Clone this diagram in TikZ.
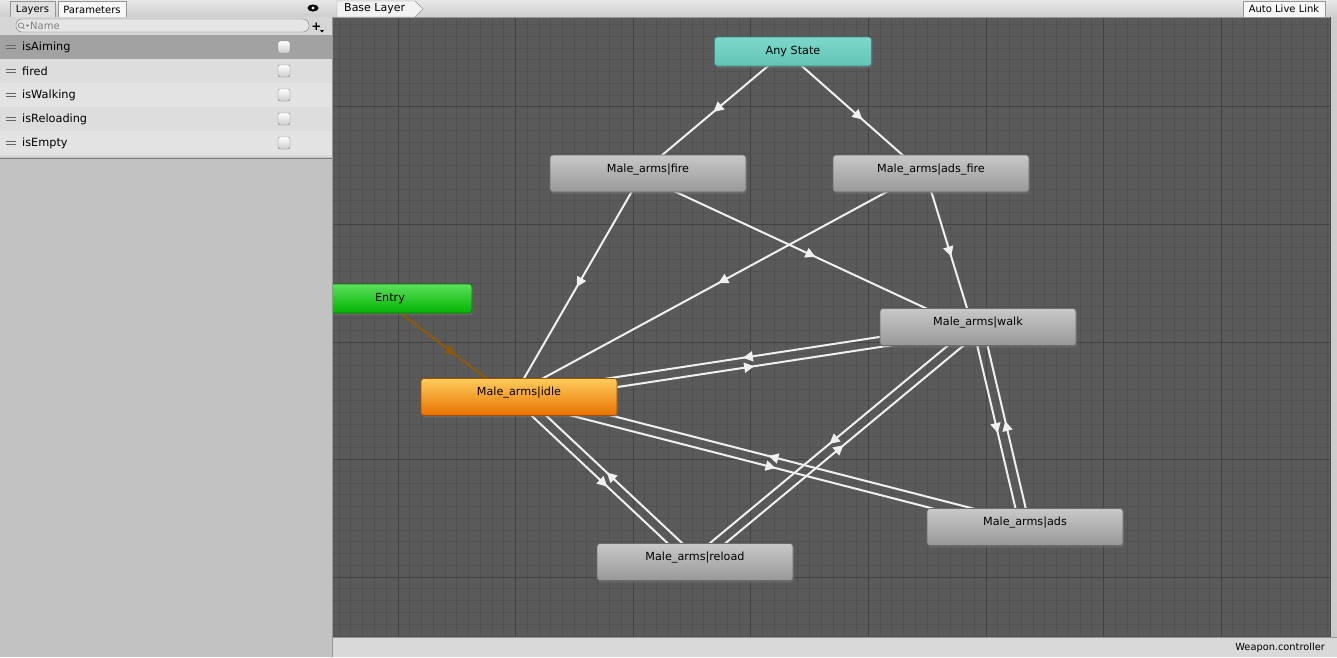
\documentclass[tikz,border=0pt]{standalone}
\usepackage{fontspec}
\setmainfont{DejaVu Sans}
\usetikzlibrary{calc,arrows.meta,decorations.markings,shadows}

\definecolor{gridbg}{RGB}{90,90,90}
\definecolor{gridminor}{RGB}{81,81,81}
\definecolor{gridmajor}{RGB}{66,66,66}
\definecolor{panelgray}{RGB}{194,194,194}
\definecolor{bartop}{RGB}{232,232,232}
\definecolor{barbot}{RGB}{205,205,205}
\definecolor{rowsel}{RGB}{162,162,162}
\definecolor{rowa}{RGB}{221,221,221}
\definecolor{rowb}{RGB}{227,227,227}
\definecolor{edgegray}{RGB}{150,150,150}
\definecolor{graytop}{RGB}{200,200,200}
\definecolor{graybot}{RGB}{152,152,152}
\definecolor{idletop}{RGB}{255,204,92}
\definecolor{idlebot}{RGB}{232,114,0}
\definecolor{entrytop}{RGB}{92,224,92}
\definecolor{entrybot}{RGB}{0,180,0}
\definecolor{anytop}{RGB}{124,216,202}
\definecolor{anybot}{RGB}{98,196,182}
\definecolor{entryline}{RGB}{140,90,10}

\pgfdeclarelayer{grid}
\pgfdeclarelayer{edges}
\pgfsetlayers{grid,edges,main}

\tikzset{
  state/.style={rounded corners=3pt, minimum width=196pt, inner xsep=0pt, inner ysep=0pt,
    text height=17pt, text depth=20pt, draw=#1!70!black, line width=.6pt,
    drop shadow={shadow xshift=1pt, shadow yshift=-2pt, opacity=.35}},
  graystate/.style={state=graybot, top color=graytop, bottom color=graybot},
  trans/.style={draw=#1, line width=2pt, postaction={decorate},
    decoration={markings, mark=at position .5 with {\arrow[#1,xshift=5pt]{Triangle[width=10pt,length=10pt]}}}},
  trans/.default=white!94!black,
  uitext/.style={font=\fontsize{10}{11}\selectfont, text=black, inner sep=0pt},
}

\begin{document}
\begin{tikzpicture}[x=1pt,y=-1pt, font=\fontsize{11.2}{12}\selectfont]
\useasboundingbox (0,0) rectangle (1337,657);

% grid
\begin{pgfonlayer}{grid}
\fill[gridbg] (333,17) rectangle (1330,637);
\begin{scope}
\clip (333,17) rectangle (1330,637);
\foreach \i in {-6,...,79} \draw[gridminor, line width=1pt] ({398+\i*11.76},17) -- ({398+\i*11.76},637);
\foreach \j in {-28,...,25} \draw[gridminor, line width=1pt] (333,{342+\j*11.76}) -- (1330,{342+\j*11.76});
\foreach \i in {-1,...,8} \draw[gridmajor, line width=1pt] ({398+\i*117.6},17) -- ({398+\i*117.6},637);
\foreach \j in {-3,...,3} \draw[gridmajor, line width=1pt] (333,{342+\j*117.6}) -- (1330,{342+\j*117.6});
\end{scope}
\end{pgfonlayer}

% states
\node[state=anybot, top color=anytop, bottom color=anybot, minimum width=157pt,
  text height=17.5pt, text depth=11.5pt] (any) at (793,51.5) {Any State};
\node[graystate] (fire) at (648,173.5) {Male\_arms|fire};
\node[graystate] (adsfire) at (931,173.5) {Male\_arms|ads\_fire};
\node[state=entrybot, top color=entrytop, bottom color=entrybot, minimum width=164pt,
  text height=17.5pt, text depth=11.5pt] (entry) at (390,298.5) {Entry};
\node[graystate] (walk) at (978,327) {Male\_arms|walk};
\node[state=idlebot, top color=idletop, bottom color=idlebot] (idle) at (519,397) {Male\_arms|idle};
\node[graystate] (ads) at (1025,527) {Male\_arms|ads};
\node[graystate] (reload) at (695,562) {Male\_arms|reload};

% transitions
\begin{pgfonlayer}{edges}
\foreach \a/\b in {any/fire,any/adsfire,fire/idle,fire/walk,adsfire/idle,adsfire/walk,
    walk/idle,idle/walk,walk/reload,reload/walk,walk/ads,ads/walk,
    idle/reload,reload/idle,idle/ads,ads/idle}
  \draw[trans] ($(\a.center)!5pt!-90:(\b.center)$) -- ($(\b.center)!5pt!90:(\a.center)$);
\draw[trans=entryline] ($(entry.center)!5pt!-90:(idle.center)$) -- ($(idle.center)!5pt!90:(entry.center)$);
\end{pgfonlayer}

% left panel
\fill[panelgray] (0,0) rectangle (333,657);
\shade[top color=bartop, bottom color=barbot] (0,0) rectangle (333,17);
\draw[fill=white!88!black, draw=edgegray] (10,1) rectangle (55,17);
\draw[fill=white!97!black, draw=edgegray] (58,1) rectangle (126,17);
\node[uitext] (layerstab) at (32.5,9.5) {Layers};
\node[uitext] (paramtab) at (92,9.5) {Parameters};
\fill[black] (313,8) ellipse (5.5 and 3.5);
\fill[white] (313,8) circle (1.6);
\fill[white!84!black] (0,17) rectangle (333,35);
\draw[fill=white!90!black, draw=edgegray!80!black, rounded corners=6pt] (16,19) rectangle (309,32);
\draw[gray, line width=.7pt] (21,25.5) circle (2.6) (23,27.5) -- (24.5,29);
\fill[gray] (25.5,24.5) -- (29.5,24.5) -- (27.5,27) -- cycle;
\node[uitext, text=gray, anchor=west] (search) at (30,25.5) {Name};
\node[uitext, font=\bfseries\fontsize{12}{12}\selectfont] (plus) at (316.5,26.5) {+};
\fill[black] (320,30) -- (324,30) -- (322,32.5) -- cycle;

\foreach \i/\pname/\col in {0/isAiming/rowsel,1/fired/rowa,2/isWalking/rowb,3/isReloading/rowa,4/isEmpty/rowb} {
  \fill[\col] (0,{35+24*\i}) rectangle (332,{59+24*\i});
  \draw[gray!80!black, line width=.8pt] (6,{45.5+24*\i}) -- (16,{45.5+24*\i}) (6,{48.5+24*\i}) -- (16,{48.5+24*\i});
  \node[uitext, font=\fontsize{11.3}{12}\selectfont, anchor=west] (param\i) at (22,{47+24*\i}) {\pname};
  \draw[rounded corners=2pt, top color=white, bottom color=white!80!black, draw=gray] (278,{41+24*\i}) rectangle (290,{53+24*\i});
}
\fill[white!85!black] (0,155) rectangle (332,157);
\draw[gray, line width=.8pt] (0,158) -- (332,158);
\draw[edgegray, line width=1pt] (332.5,17) -- (332.5,657);

% top and bottom bars of the graph
\shade[top color=bartop, bottom color=barbot] (333,0) rectangle (1337,17);
\draw[edgegray] (333,17) -- (1337,17);
\draw[fill=white!95!black, draw=edgegray] (337,1) -- (415,1) -- (423,9) -- (415,17) -- (337,17) -- cycle;
\node[uitext, font=\fontsize{11}{12}\selectfont, anchor=west] (layer) at (344,9) {Base Layer};
\draw[fill=white!97!black, draw=edgegray] (1243,1) rectangle (1325,17);
\node[uitext] (livelink) at (1284,9) {Auto Live Link};
\fill[white!80!black] (1330,17) rectangle (1337,637);
\draw[black!70, line width=1pt] (1330.5,17) -- (1330.5,637);
\fill[white!85!black] (333,637) rectangle (1337,657);
\draw[edgegray] (333,637) -- (1337,637);
\node[uitext, font=\fontsize{9.8}{11}\selectfont, anchor=east] (ctrl) at (1325,648) {Weapon.controller};
\end{tikzpicture}
\end{document}
